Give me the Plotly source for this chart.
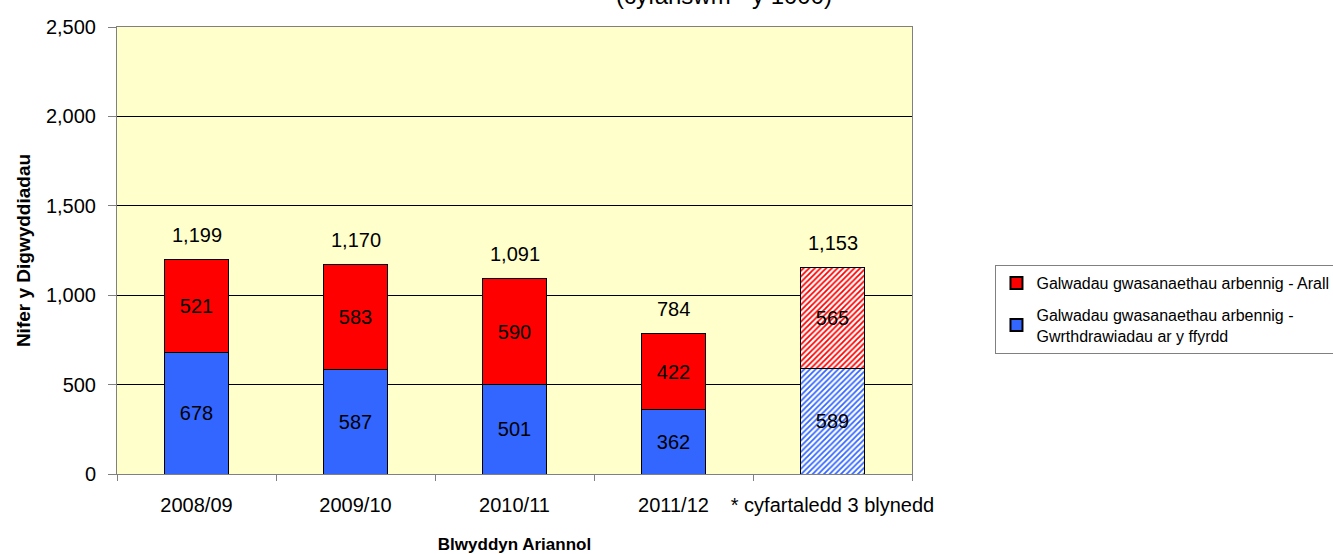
import plotly.graph_objects as go

categories = ["2008/09", "2009/10", "2010/11", "2011/12", "* cyfartaledd 3 blynedd"]
road_collisions = [678, 587, 501, 362, 589]
other_calls = [521, 583, 590, 422, 565]
totals = [1199, 1170, 1091, 784, 1153]
patterns = ["", "", "", "", "/"]

name_other = "Galwadau gwasanaethau arbennig - Arall"
name_road = "Galwadau gwasanaethau arbennig -<br>Gwrthdrawiadau ar y ffyrdd"

FONT = "Liberation Sans, Arial, sans-serif"
RED = "#FF0000"
BLUE = "#3366FF"
LABEL_SIZE = 20

fig = go.Figure()
fig.add_trace(go.Bar(
    x=categories, y=road_collisions, name=name_road, legendgroup="road",
    legendrank=2,
    marker=dict(color=BLUE, line=dict(color="black", width=1),
                pattern=dict(shape=patterns, fgcolor=BLUE, bgcolor="white",
                             size=4, solidity=0.45, fillmode="replace")),
    text=road_collisions, texttemplate="%{text}", textposition="inside",
    insidetextanchor="middle", textangle=0,
    textfont=dict(color="black", size=LABEL_SIZE, family=FONT),
))
fig.add_trace(go.Bar(
    x=categories, y=other_calls, name=name_other, legendgroup="other",
    legendrank=1,
    marker=dict(color=RED, line=dict(color="black", width=1),
                pattern=dict(shape=patterns, fgcolor=RED, bgcolor="white",
                             size=4, solidity=0.45, fillmode="replace")),
    text=other_calls, texttemplate="%{text}", textposition="inside",
    insidetextanchor="middle", textangle=0,
    textfont=dict(color="black", size=LABEL_SIZE, family=FONT),
))

for c, t in zip(categories, totals):
    fig.add_annotation(x=c, y=t, xref="x", yref="y", text=f"{t:,}",
                       showarrow=False, yshift=25,
                       font=dict(size=LABEL_SIZE, color="black", family=FONT))

fig.add_annotation(x=0.7635, y=1.036, xref="paper", yref="paper",
                   yanchor="bottom", xanchor="center",
                   text="(cyfanswm - y 1000)", showarrow=False,
                   font=dict(size=24, color="black", family=FONT))

fig.update_layout(
    width=1333, height=554,
    barmode="stack", bargap=0.6,
    paper_bgcolor="white", plot_bgcolor="#FFFFCC",
    margin=dict(l=117, r=421, t=27, b=80, autoexpand=False),
    font=dict(family=FONT, color="black", size=LABEL_SIZE),
    showlegend=True,
    legend=dict(x=1.105, y=0.4676, xref="paper", yref="paper",
                xanchor="left", yanchor="top", traceorder="grouped",
                tracegroupgap=8,
                bordercolor="#808080", borderwidth=1, bgcolor="white",
                font=dict(size=16, family=FONT), itemsizing="constant"),
    xaxis=dict(
        title=dict(text="<b>Blwyddyn Ariannol</b>", font=dict(size=17), standoff=23),
        ticks="outside", tickson="boundaries", ticklen=6, tickcolor="#808080",
        showline=True, linecolor="#808080", linewidth=1, mirror=True,
        tickfont=dict(size=LABEL_SIZE), tickangle=0, automargin=False,
        ticklabelstandoff=13,
    ),
    yaxis=dict(
        title=dict(text="<b>Nifer y Digwyddiadau</b>", font=dict(size=19), standoff=10),
        range=[0, 2500], dtick=500, tickformat=",d",
        ticks="outside", ticklen=8, tickcolor="#808080",
        showgrid=True, gridcolor="black", gridwidth=1,
        showline=True, linecolor="#808080", linewidth=1, mirror=True,
        tickfont=dict(size=LABEL_SIZE), zeroline=False, automargin=False,
        ticklabelstandoff=8,
    ),
)

fig.write_html("out.html", config={"displayModeBar": False},
               post_script="document.body.style.margin='0';")
